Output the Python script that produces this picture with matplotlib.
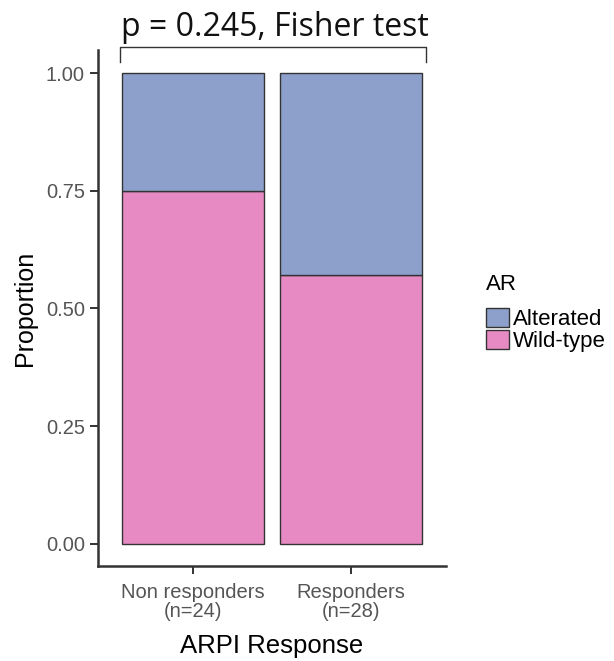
import numpy as np
import matplotlib
matplotlib.use("Agg")
from matplotlib import pyplot as plt
from matplotlib.patches import Patch

# data
groups = ["Non responders\n(n=24)", "Responders\n(n=28)"]
wild_type = [18 / 24, 16 / 28]
altered = [6 / 24, 12 / 28]
yticks = [0.00, 0.25, 0.50, 0.75, 1.00]
p_label = "p = 0.245, Fisher test"

col_alt = "#8DA0CB"
col_wt = "#E78AC3"
edge = "#333333"

plt.rcParams['font.family'] = ['Liberation Sans', 'DejaVu Sans']

fig = plt.figure(figsize=(6.14, 6.61), dpi=100)
ax = fig.add_axes([0.1596, 0.1437, 0.567, 0.7807])

x = np.arange(len(groups))
ax.bar(x, wild_type, width=0.9, color=col_wt, edgecolor=edge, linewidth=1)
ax.bar(x, altered, bottom=wild_type, width=0.9, color=col_alt, edgecolor=edge, linewidth=1)

ax.set_xlim(-0.6, 1.6)
ax.set_ylim(-0.047, 1.049)
ax.set_yticks(yticks)
ax.set_yticklabels(["%.2f" % v for v in yticks])
ax.set_xticks(x)
ax.set_xticklabels(groups, linespacing=1.05)
ax.tick_params(colors="#333333", labelcolor="#555555", labelsize=14.5, length=6, width=1.4)
ax.tick_params(axis="x", pad=6)
for s in ["top", "right"]:
    ax.spines[s].set_visible(False)
for s in ["left", "bottom"]:
    ax.spines[s].set_linewidth(1.8)
    ax.spines[s].set_color("#333333")

ax.set_ylabel("Proportion", fontsize=18, labelpad=6)
ax.set_xlabel("ARPI Response", fontsize=18.5, labelpad=9)

# bracket with p-value
bx = [-0.46, -0.46, 1.47, 1.47]
by = [1.023, 1.055, 1.055, 1.023]
ax.plot(bx, by, color="#333333", lw=1, clip_on=False)
ax.text(0.52, 1.061, p_label, ha="center", va="bottom", fontsize=23,
        family=["Open Sans", "DejaVu Sans"], color="#111111", clip_on=False)

handles = [Patch(facecolor=col_alt, edgecolor=edge, label="Alterated"),
           Patch(facecolor=col_wt, edgecolor=edge, label="Wild-type")]
leg = fig.legend(handles=handles, title="AR", loc="upper left",
                 bbox_to_anchor=(0.792, 0.585), frameon=False, fontsize=16,
                 title_fontsize=16, handlelength=1.0, handleheight=0.95,
                 handletextpad=0.2, labelspacing=0.0, borderpad=0,
                 borderaxespad=0)
leg._legend_box.align = "left"
leg._legend_box.sep = 9

fig.savefig("out.png", dpi=100)
